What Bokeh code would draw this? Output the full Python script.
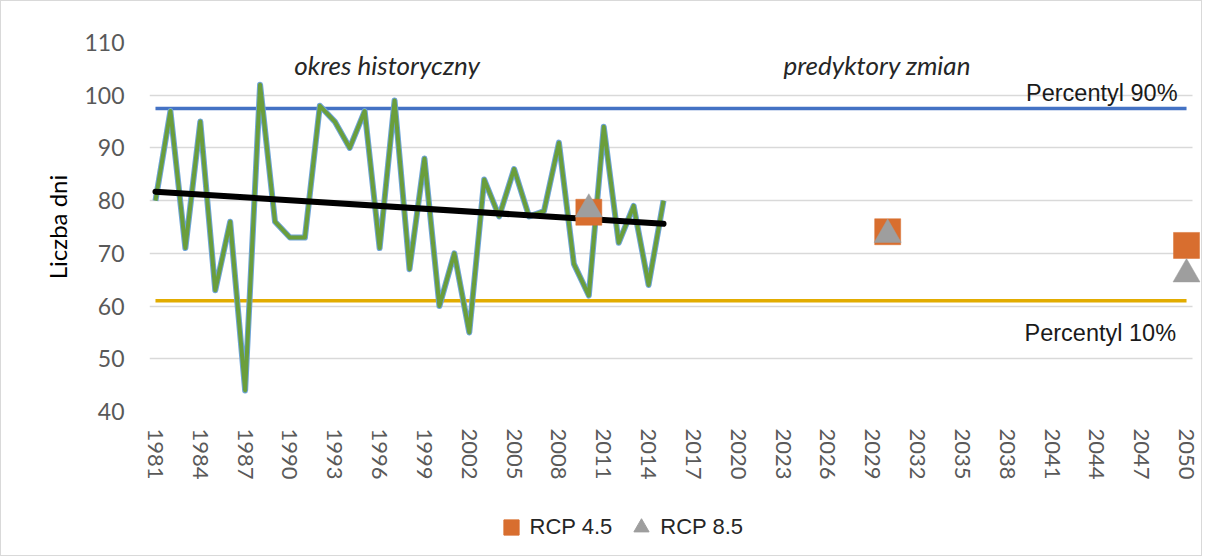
from bokeh.plotting import figure
from bokeh.layouts import column
from bokeh.models import (FixedTicker, Label, Legend, LegendItem, ColumnDataSource, Range1d, Grid)
from bokeh.transform import dodge
from bokeh.embed import file_html
from bokeh.resources import INLINE

# ---------------- data ----------------
years_hist = list(range(1981, 2016))
days = [80, 97, 71, 95, 63, 76, 44, 102, 76, 73, 73, 98, 95, 90, 97, 71, 99, 67,
        88, 60, 70, 55, 84, 77, 86, 77, 78, 91, 68, 62, 94, 72, 79, 64, 80]
trend_years = [1981, 2015]
trend_days = [81.7, 75.6]
pct_years = [1981, 2050]
pct90 = [97.5, 97.5]
pct10 = [61.0, 61.0]
scen_years = [2010, 2030, 2050]
rcp45 = [77.8, 74.1, 71.5]
rcp85 = [79.1, 74.3, 66.8]
x_ticks = list(range(1981, 2051, 3))
y_ticks = [40, 50, 60, 70, 80, 90, 100, 110]
series_names = ["RCP 4.5", "RCP 8.5"]

ORANGE = "#D86E2F"
GREY = "#9E9E9E"

# ---------------- main figure ----------------
p = figure(width=1200, height=489, output_backend="svg", toolbar_location=None,
           x_range=Range1d(1980.6, 2050.935), y_range=Range1d(40, 110),
           min_border_left=148, min_border_right=1, min_border_top=41,
           min_border_bottom=79)
p.outline_line_color = None
p.background_fill_color = "white"
p.border_fill_color = "white"

p.xgrid.grid_line_color = None
p.ygrid.grid_line_color = "#d9d9d9"
p.ygrid.grid_line_width = 1.5
if "cross_bounds" in Grid.properties():
    p.ygrid.cross_bounds = (1980.6, 2050.4)

p.xaxis.ticker = FixedTicker(ticks=x_ticks)
p.yaxis.ticker = FixedTicker(ticks=y_ticks)
for ax in (p.xaxis, p.yaxis):
    ax.axis_line_color = None
    ax.major_tick_line_color = None
    ax.minor_tick_line_color = None
    ax.major_label_text_color = "#595959"
    ax.major_label_text_font = "Lato"
    ax.major_label_text_font_size = "23px"
p.xaxis.major_label_text_font_size = "22px"
p.xaxis.major_label_orientation = "vertical"
p.xaxis.major_label_standoff = 11
p.yaxis.major_label_standoff = 19
p.yaxis.axis_label = "Liczba dni"
p.yaxis.axis_label_text_font = "Lato"
p.yaxis.axis_label_text_font_style = "normal"
p.yaxis.axis_label_text_font_size = "24px"
p.yaxis.axis_label_text_color = "#000000"
p.yaxis.axis_label_standoff = 9

# percentile lines
p.line(pct_years, pct90, line_color="#4472C4", line_width=3.5)
p.line(pct_years, pct10, line_color="#E2AC00", line_width=3.5)

# historical series (green with light blue outline)
src = ColumnDataSource(dict(x=years_hist, y=days))
p.line("x", "y", source=src, line_color="#6FA4D8", line_width=6, line_join="round")
p.line("x", "y", source=src, line_color="#6A9E3B", line_width=4, line_join="round")

# trend
p.line(trend_years, trend_days, line_color="#000000", line_width=6, line_cap="round")

# scenarios
s45 = ColumnDataSource(dict(x=scen_years, y=rcp45))
s85 = ColumnDataSource(dict(x=scen_years, y=rcp85))
p.scatter("x", "y", source=s45, marker="square", size=26,
          fill_color=ORANGE, line_color=ORANGE, line_width=0.5)
p.scatter("x", dodge("y", -0.74), source=s85, marker="triangle", size=27,
          fill_color=GREY, line_color=GREY, line_width=0.5)

# annotations
p.add_layout(Label(x=1996.5, y=105.8, text="okres historyczny", text_align="center",
                   text_baseline="alphabetic", text_font="Lato", text_font_style="italic",
                   text_font_size="26px", text_color="#262626"))
p.add_layout(Label(x=2029.3, y=105.8, text="predyktory zmian", text_align="center",
                   text_baseline="alphabetic", text_font="Lato", text_font_style="italic",
                   text_font_size="26px", text_color="#262626"))
p.add_layout(Label(x=2049.4, y=100.45, text="Percentyl 90%", text_align="right",
                   text_baseline="alphabetic", text_font="Liberation Sans",
                   text_font_size="23.5px", text_color="#1a1a1a"))
p.add_layout(Label(x=2049.3, y=54.8, text="Percentyl 10%", text_align="right",
                   text_baseline="alphabetic", text_font="Liberation Sans",
                   text_font_size="23.5px", text_color="#1a1a1a"))

# ---------------- legend strip ----------------
lg = figure(width=1200, height=65, output_backend="svg", toolbar_location=None,
            x_range=Range1d(0, 1), y_range=Range1d(0, 1), min_border=0)
lg.xaxis.visible = False
lg.yaxis.visible = False
lg.xgrid.grid_line_color = None
lg.ygrid.grid_line_color = None
lg.outline_line_color = None
lg.background_fill_color = "white"
lg.border_fill_color = "white"
# same series (outside this strip's view range, so only their legend keys show)
l45 = lg.scatter("x", "y", source=s45, marker="square", size=26,
                 fill_color=ORANGE, line_color=ORANGE)
l85 = lg.scatter("x", "y", source=s85, marker="triangle", size=27,
                 fill_color=GREY, line_color=GREY)
legend = Legend(items=[LegendItem(label=series_names[0], renderers=[l45]),
                       LegendItem(label=series_names[1], renderers=[l85])],
                orientation="horizontal", location=(342.6, 9),
                glyph_width=38, glyph_height=38, label_standoff=-12, spacing=10,
                padding=0, margin=0, border_line_color=None, background_fill_alpha=0,
                label_text_font="Liberation Sans", label_text_font_size="22px",
                label_text_color="#262626")
lg.add_layout(legend)

layout = column(p, lg, spacing=0)
layout.styles = {"border": "1px solid #d9d9d9"}

open("out.html", "w").write(file_html(layout, INLINE))
